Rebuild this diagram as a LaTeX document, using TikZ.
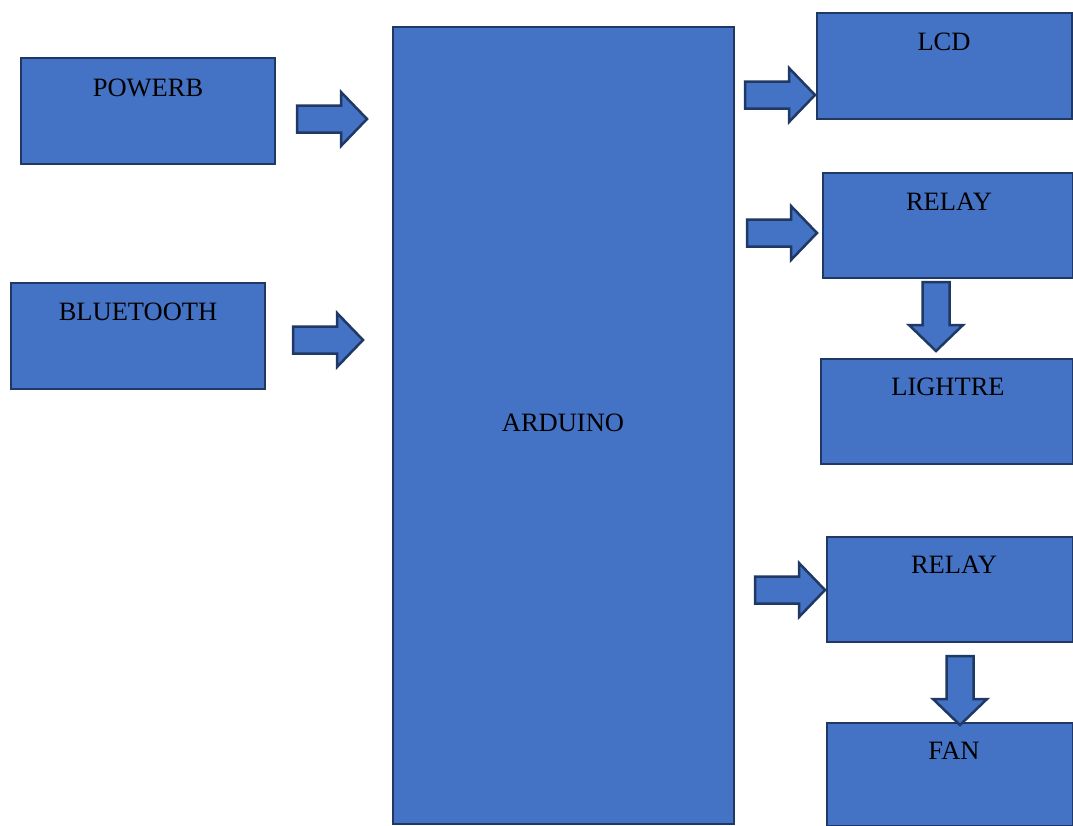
\documentclass[tikz,border=0pt]{standalone}
\usepackage{fontspec}
\setmainfont{Liberation Serif}
\begin{document}
\begin{tikzpicture}[x=1pt,y=-1pt,
  blk/.style={draw=blkedge,fill=blkfill,line width=2.5pt},
  lbl/.style={anchor=base,inner sep=0pt,font=\fontsize{26.5}{30}\selectfont},
  rarr/.pic={\draw[blk] (0,-13.5) -- (44,-13.5) -- (44,-27) -- (70,0) -- (44,27) -- (44,13.5) -- (0,13.5) -- cycle;},
  darr/.pic={\draw[blk] (-13.5,0) -- (-13.5,43) -- (-27,43) -- (0,69) -- (27,43) -- (13.5,43) -- (13.5,0) -- cycle;}]
\definecolor{blkfill}{HTML}{4472C4}
\definecolor{blkedge}{HTML}{1F3864}
\useasboundingbox (0,0) rectangle (1073,825);
% boxes
\draw[blk] (21,58) rectangle (275,164);
\node[lbl] (powerb) at (148,96) {POWERB};
\draw[blk] (11,283) rectangle (265,389);
\node[lbl] (bt) at (138,320) {BLUETOOTH};
\draw[blk] (393,27) rectangle (734,824);
\node[lbl] (arduino) at (563,431) {ARDUINO};
\draw[blk] (817,13) rectangle (1072,119);
\node[lbl] (lcd) at (944,50) {LCD};
\draw[blk] (823,173) rectangle (1073,278);
\node[lbl] (relay1) at (949,210) {RELAY};
\draw[blk] (821,359) rectangle (1073,464);
\node[lbl] (light) at (948,395) {LIGHTRE};
\draw[blk] (827,537) rectangle (1073,642);
\node[lbl] (relay2) at (954,573) {RELAY};
\draw[blk] (827,723) rectangle (1073,826);
\node[lbl] (fan) at (954,759) {FAN};
% block arrows
\pic at (297,119) {rarr};
\pic at (293,340) {rarr};
\pic at (745,95) {rarr};
\pic at (747,233) {rarr};
\pic at (755,590) {rarr};
\pic at (936,282) {darr};
\pic at (960,656) {darr};
\end{tikzpicture}
\end{document}
